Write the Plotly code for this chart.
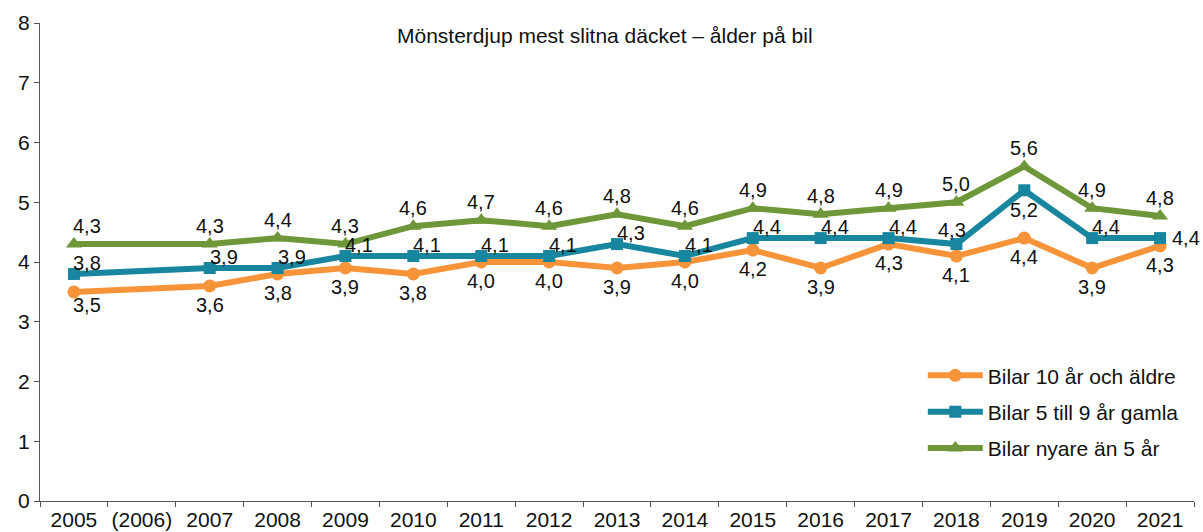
import plotly.graph_objects as go

years = ["2005", "(2006)", "2007", "2008", "2009", "2010", "2011", "2012", "2013",
         "2014", "2015", "2016", "2017", "2018", "2019", "2020", "2021"]
old_cars = [3.5, None, 3.6, 3.8, 3.9, 3.8, 4.0, 4.0, 3.9, 4.0, 4.2, 3.9, 4.3, 4.1, 4.4, 3.9, 4.27]
mid_cars = [3.8, None, 3.9, 3.9, 4.1, 4.1, 4.1, 4.1, 4.3, 4.1, 4.4, 4.4, 4.4, 4.3, 5.2, 4.4, 4.4]
new_cars = [4.3, None, 4.3, 4.4, 4.3, 4.6, 4.7, 4.6, 4.8, 4.6, 4.9, 4.8, 4.9, 5.0, 5.6, 4.9, 4.77]

names = ["Bilar 10 år och äldre", "Bilar 5 till 9 år gamla", "Bilar nyare än 5 år"]
colors = ["#F7943A", "#17869E", "#6E9739"]
title = "Mönsterdjup mest slitna däcket – ålder på bil"

FONT = "Liberation Sans, Arial, Helvetica, sans-serif"
FS = 21
LFS = 20


def fmt(v):
    return f"{v:.1f}".replace(".", ",")


fig = go.Figure()
series = [
    (old_cars, names[0], colors[0], "circle", 13),
    (mid_cars, names[1], colors[1], "square", 12),
    (new_cars, names[2], colors[2], "triangle-up", 14),
]
for k, (vals, name, col, sym, ms) in enumerate(series):
    fig.add_trace(go.Scatter(
        x=years, y=vals, name=name, mode="lines+markers",
        line=dict(color=col, width=6),
        marker=dict(symbol=sym, size=ms, color=col),
        connectgaps=True, cliponaxis=False, legendgroup=f"g{k}",
    ))

annotations = []
for si, vals in enumerate([old_cars, mid_cars, new_cars]):
    for i, (yr, v) in enumerate(zip(years, vals)):
        if v is None:
            continue
        if si == 0:
            xa, xs, ys = "center", 0, -19
        elif si == 1:
            xa, xs, ys = "left", -2, 11
        else:
            xa, xs, ys = "center", 0, 18
        if i == 0:
            xa, xs = "left", -3
        if si == 0 and i == 0:
            ys = -13
        if si == 1 and yr == "2019":
            xa, xs, ys = "center", 0, -20
        if si == 1 and yr == "2018":
            xa, xs, ys = "center", -4, 14
        if si == 1 and yr == "2021":
            xa, xs, ys = "left", 10, 0
        annotations.append(dict(
            x=i, y=v, xref="x", yref="y", text=fmt(v), showarrow=False,
            xanchor=xa, yanchor="middle", xshift=xs, yshift=ys,
            font=dict(family=FONT, size=LFS, color="#111111"),
        ))

annotations.append(dict(text=title, x=0.49, y=0.973, xref="paper", yref="paper",
                        xanchor="center", yanchor="middle", showarrow=False,
                        font=dict(size=FS, family=FONT, color="#111111")))

fig.update_layout(
    width=1203, height=532,
    margin=dict(l=40, r=9, t=23, b=31),
    paper_bgcolor="white", plot_bgcolor="white",
    font=dict(family=FONT, size=FS, color="#111111"),
    showlegend=True,
    legend=dict(x=0.765, y=0.305, xanchor="left", yanchor="top",
                bgcolor="rgba(0,0,0,0)", font=dict(size=FS, family=FONT),
                itemwidth=55, tracegroupgap=6),
    annotations=annotations,
)
fig.update_xaxes(
    type="category", range=[-0.5, 16.5], showgrid=False,
    showline=True, linecolor="#555555", linewidth=1,
    ticks="outside", tickson="boundaries", ticklen=5, tickcolor="#555555",
    tickfont=dict(size=FS), tickangle=0, automargin=False,
)
fig.update_yaxes(
    range=[0, 8], dtick=1, showgrid=False, zeroline=False,
    showline=True, linecolor="#555555", linewidth=1,
    ticks="outside", ticklen=5, tickcolor="#555555",
    tickfont=dict(size=FS), automargin=False,
)

fig.write_html("out.html", config={"displayModeBar": False},
               post_script="document.body.style.margin='0px';document.body.style.overflow='hidden';")
